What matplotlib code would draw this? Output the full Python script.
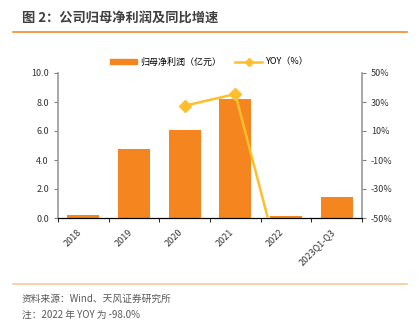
import numpy as np
import matplotlib
matplotlib.use("Agg")
import matplotlib.pyplot as plt
from matplotlib.lines import Line2D

plt.rcParams['font.family'] = ['Noto Sans CJK SC', 'DejaVu Sans']
plt.rcParams['axes.unicode_minus'] = False

# 归母净利润（亿元）及同比
years = ['2018', '2019', '2020', '2021', '2022', '2023Q1-Q3']
profit = [0.23, 4.75, 6.05, 8.2, 0.14, 1.45]
yoy = [np.nan, np.nan, 27.4, 35.5, -98.0, np.nan]

bar_color = '#F5851F'
line_color = '#FFBE2A'

fig = plt.figure(figsize=(4.2, 3.22), dpi=100)
ax = fig.add_axes([58/420, 1-218/322, 304/420, 145/322])

x = np.arange(len(years))
ax.bar(x, profit, width=0.63, color=bar_color, zorder=2)
ax.set_xlim(-0.5, len(years)-0.5)
ax.set_ylim(0, 10)
ax.set_yticks(np.arange(0, 10.1, 2))
ax.set_yticklabels([f'{v:.1f}' for v in np.arange(0, 10.1, 2)])
ax.set_xticks(x)
ax.set_xticklabels(years, rotation=45, ha='right', fontsize=6.5, color='#333333')
ax.set_xticks(np.arange(-0.5, len(years)), minor=True)
ax.tick_params(axis='x', which='major', length=0, pad=7)
ax.tick_params(axis='x', which='minor', length=3, color='black')
ax.tick_params(axis='y', labelsize=6.5, length=3, colors='#333333', color='#808080')
for lbl in ax.get_xticklabels():
    lbl.set_x(lbl.get_position()[0])

ax2 = ax.twinx()
ax2.plot(x, yoy, color=line_color, lw=1.8, marker='D', ms=6, zorder=3, clip_on=True)
ax2.set_ylim(-50, 50)
ax2.set_yticks(np.arange(-50, 51, 20))
ax2.set_yticklabels([f'{v}%' for v in np.arange(-50, 51, 20)])
ax2.tick_params(axis='y', labelsize=6.5, length=3, colors='#333333', color='#808080')

for a in (ax, ax2):
    a.spines['top'].set_visible(False)
    a.spines['left'].set_color('#999999')
    a.spines['right'].set_color('#999999')
    a.spines['bottom'].set_color('black')
    a.spines['left'].set_linewidth(1.2)
    a.spines['right'].set_linewidth(1.2)
ax2.spines['left'].set_visible(False)
ax.spines['right'].set_visible(False)

handles = [plt.Rectangle((0, 0), 1, 1, color=bar_color),
           Line2D([0], [0], color=line_color, lw=1.8, marker='D', ms=4)]
ax.legend(handles, ['归母净利润（亿元）', 'YOY（%）'], ncol=2, loc='center',
          bbox_to_anchor=(0.497, 1.076), frameon=False, fontsize=6.5,
          handlelength=3, handleheight=0.6, columnspacing=1.5, handletextpad=0.4)

# 标题与来源
fig.text(22/420, 1-18/322, '图 2：公司归母净利润及同比增速', fontsize=9.5,
         fontweight='bold', color='#3F3F3F', va='center', ha='left')
fig.add_artist(Line2D([13/420, 407/420], [1-32/322, 1-32/322], color='#F28C28', lw=1.2))
fig.add_artist(Line2D([13/420, 407/420], [1-284/322, 1-284/322], color='#F9C79A', lw=1.2))
fig.text(22/420, 1-299/322, '资料来源：Wind、天风证券研究所', fontsize=7,
         color='#595959', va='center', ha='left')
fig.text(22/420, 1-315/322, '注：2022 年 YOY 为 -98.0%', fontsize=7,
         color='#595959', va='center', ha='left')

fig.savefig('out.png', dpi=100)
